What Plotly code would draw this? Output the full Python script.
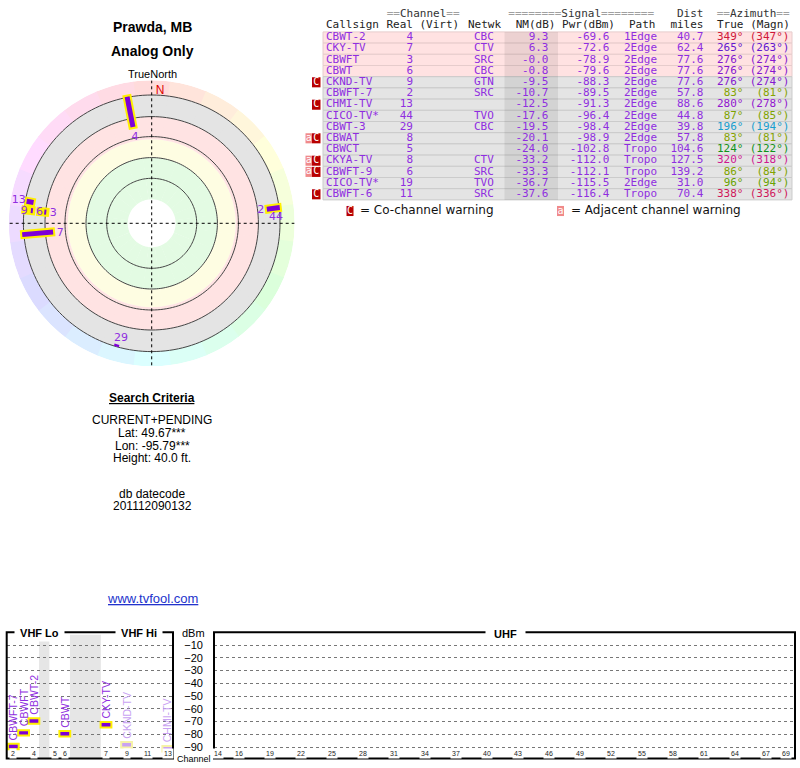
import numpy as np
import plotly.graph_objects as go

W, H = 800, 768
PURPLE = '#8f2ee0'
PURPLE_FAINT = '#c9a2f2'
YELLOW = '#fff000'
YELLOW_FAINT = '#f6f2a8'
MONO = 'DejaVu Sans Mono'
SANS = 'Liberation Sans'

# ---------------- station list (table) ----------------
callsigns = ['CBWT-2', 'CKY-TV', 'CBWFT', 'CBWT', 'CKND-TV', 'CBWFT-7', 'CHMI-TV', 'CICO-TV*',
             'CBWT-3', 'CBWAT', 'CBWCT', 'CKYA-TV', 'CBWFT-9', 'CICO-TV*', 'CBWFT-6']
real_ch = [4, 7, 3, 6, 9, 2, 13, 44, 29, 8, 5, 8, 6, 19, 11]
networks = ['CBC', 'CTV', 'SRC', 'CBC', 'GTN', 'SRC', '', 'TVO', 'CBC', '', '', 'CTV', 'SRC', 'TVO', 'SRC']
nm_db = [9.3, 6.3, -0.0, -0.8, -9.5, -10.7, -12.5, -17.6, -19.5, -20.1, -24.0, -33.2, -33.3, -36.7, -37.6]
pwr_dbm = [-69.6, -72.6, -78.9, -79.6, -88.3, -89.5, -91.3, -96.4, -98.4, -98.9, -102.8, -112.0, -112.1, -115.5, -116.4]
paths = ['1Edge', '2Edge', '2Edge', '2Edge', '2Edge', '2Edge', '2Edge', '2Edge', '2Edge', '2Edge',
         'Tropo', 'Tropo', 'Tropo', '2Edge', 'Tropo']
dist_mi = [40.7, 62.4, 77.6, 77.6, 77.6, 57.8, 88.6, 44.8, 39.8, 57.8, 104.6, 127.5, 139.2, 31.0, 70.4]
az_true = [349, 265, 276, 276, 276, 83, 280, 87, 196, 83, 124, 320, 86, 96, 338]
az_magn = [347, 263, 274, 274, 274, 81, 278, 85, 194, 81, 122, 318, 84, 94, 336]
warnings = ['', '', '', '', 'C', '', 'C', '', '', 'aC', '', 'aC', 'aC', '', 'C']

# ---------------- radar plot ----------------
ring_radii = [45, 65.7, 86.7, 106.7, 128.3]
radar_mark_az = [349, 265, 83, 280, 276, 276, 196]
radar_mark_r_in = [98, 99, 116, 120, 119.5, 106, 125.8]
radar_mark_r_out = [129, 130, 129, 127, 121.5, 108, 128.2]
radar_halo_r_in = [96, 97, 114, 118, 117, 103]
radar_halo_r_out = [131, 132, 131, 129, 131, 116]
radar_label_text = ['4', '7', '2', '44', '13', '9', '6', '3', '29']
radar_label_az = [349, 264, 83, 87, 280, 275.5, 275.4, 275.6, 195]
radar_label_r = [88, 92, 110, 124.5, 135, 128, 112.8, 98.8, 118.5]

# ---------------- spectrum chart ----------------
vhf_channels = [2, 3, 4, 5, 6, 7, 8, 9, 10, 11, 12, 13]
vhf_slots = [0, 1, 2, 4, 5, 9, 10, 11, 12, 13, 14, 15]
vhf_tick_channels = [2, 4, 5, 6, 7, 9, 11, 13]
uhf_tick_channels = [14, 16, 19, 22, 25, 28, 31, 34, 37, 40, 43, 46, 49, 52, 55, 58, 61, 64, 67, 69]
dbm_ticks = [-10, -20, -30, -40, -50, -60, -70, -80, -90]


def pxx(x):
    return x / W


def pxy(y):
    return 1 - y / H


ROW0, ROW_H = 37.5, 11.2


def row_of(y):
    return (y - ROW0) / ROW_H


def az_color(a):
    # darker, slightly warmer tones for the yellow/green part of the compass
    if a < 110:
        return f'hsl({a * 0.85:.0f},100%,32%)'
    if a < 160:
        return f'hsl({a:.0f},80%,32%)'
    return f'hsl({a:.0f},80%,45%)'


fig = go.Figure()

# ---- radar background bands ----
sector_theta = np.arange(0, 360, 15)
ns = len(sector_theta)
bands = [(24, 66, '#e3fbe3'), (66, 84, '#fefde2'), (84, 106.7, '#ffe3e3'), (106.7, 128.3, '#e4e4e4')]
for r0, r1, col in bands:
    fig.add_trace(go.Barpolar(theta=sector_theta, r=[r1 - r0] * ns, base=r0, width=15.4,
                              marker=dict(color=col, line=dict(width=0)), hoverinfo='skip'))
fig.add_trace(go.Barpolar(theta=sector_theta, r=[143 - 128.3] * ns, base=128.3, width=15.4,
                          marker=dict(color=[f'hsl({t},100%,93%)' for t in sector_theta], line=dict(width=0)),
                          hoverinfo='skip'))

circle_theta = np.arange(0, 362, 2)
for rr in ring_radii:
    fig.add_trace(go.Scatterpolar(r=[rr] * len(circle_theta), theta=circle_theta, mode='lines',
                                  line=dict(color='#444', width=1), hoverinfo='skip'))
fig.add_trace(go.Scatterpolar(r=[143, 0, 143, None, 143, 0, 143], theta=[0, 0, 180, None, 90, 90, 270],
                              mode='lines', line=dict(color='black', width=1, dash='dot'), hoverinfo='skip'))

halo_r, halo_t = [], []
for a, r0, r1 in zip(radar_mark_az, radar_halo_r_in, radar_halo_r_out):
    halo_r += [r0, r1, None]
    halo_t += [a, a, None]
fig.add_trace(go.Scatterpolar(r=halo_r, theta=halo_t, mode='lines',
                              line=dict(color=YELLOW, width=9), hoverinfo='skip'))
mark_r, mark_t = [], []
for a, r0, r1 in zip(radar_mark_az, radar_mark_r_in, radar_mark_r_out):
    mark_r += [r0, r1, None]
    mark_t += [a, a, None]
fig.add_trace(go.Scatterpolar(r=mark_r, theta=mark_t, mode='lines',
                              line=dict(color='#7d00d8', width=5), hoverinfo='skip'))
fig.add_trace(go.Scatterpolar(r=radar_label_r, theta=radar_label_az, text=radar_label_text, mode='text',
                              textfont=dict(family='DejaVu Sans', size=11, color=PURPLE), hoverinfo='skip'))
fig.add_trace(go.Scatterpolar(r=[133], theta=[3.6], text=['N'], mode='text',
                              textfont=dict(family=SANS, size=12, color='#dd0000'), hoverinfo='skip'))

# ---- spectrum chart ----
slot_of = dict(zip(vhf_channels, vhf_slots))
shown = [i for i in range(len(callsigns)) if nm_db[i] > -15]
vhf_idx = [i for i in shown if real_ch[i] <= 13]
uhf_idx = [i for i in shown if real_ch[i] >= 14]
MARK_H = 4.3
ann = []


def spectrum_bar(idx, xaxis, xpos):
    faint = ['C' in warnings[i] for i in idx]
    for i, x, f in zip(idx, xpos, faint):
        ann.append(dict(x=x, y=pwr_dbm[i] + MARK_H / 2 + 1.2, xref=xaxis, yref='y', text=callsigns[i],
                        textangle=-90, xanchor='center', yanchor='bottom', showarrow=False,
                        font=dict(family='Liberation Sans Narrow, Liberation Sans', size=10.5,
                                  color=PURPLE_FAINT if f else PURPLE)))
    return go.Bar(
        x=xpos, y=[MARK_H] * len(idx), base=[pwr_dbm[i] - MARK_H / 2 for i in idx], width=1.05,
        marker=dict(color=[PURPLE_FAINT if f else '#7d00d8' for f in faint],
                    line=dict(color=[YELLOW_FAINT if f else YELLOW for f in faint], width=2)),
        xaxis=xaxis, yaxis='y', hoverinfo='skip')


fig.add_trace(spectrum_bar(vhf_idx, 'x', [slot_of[real_ch[i]] for i in vhf_idx]))
fig.add_trace(spectrum_bar(uhf_idx, 'x2', [real_ch[i] for i in uhf_idx]))

# ---- table ----
rows = list(range(len(callsigns)))
n = len(rows)
pink = [v > -2 for v in nm_db]
fig.add_trace(go.Bar(orientation='h', y=rows, x=[469] * n, base=323, width=1,
                     marker=dict(color=['#ffe2e2' if p else '#e4e4e4' for p in pink],
                                 line=dict(color=['#e6cccc' if p else '#cbcbcb' for p in pink], width=1)),
                     xaxis='x3', yaxis='y3', hoverinfo='skip'))
fig.add_trace(go.Bar(orientation='h', y=rows, x=[53.5] * n, base=504.5, width=1,
                     marker=dict(color='rgba(0,0,0,0.075)', line=dict(width=0)),
                     xaxis='x3', yaxis='y3', hoverinfo='skip'))

c_rows = [i for i in rows if 'C' in warnings[i]]
a_rows = [i for i in rows if 'a' in warnings[i]]
LEG = row_of(211)
fig.add_trace(go.Bar(orientation='h', y=c_rows + [LEG], x=[8.5] * len(c_rows) + [7],
                     base=[312] * len(c_rows) + [346.5], width=0.9,
                     marker=dict(color='#b80000', line=dict(width=0)),
                     xaxis='x3', yaxis='y3', hoverinfo='skip'))
fig.add_trace(go.Bar(orientation='h', y=a_rows + [LEG], x=[6.5] * len(a_rows) + [7],
                     base=[305.5] * len(a_rows) + [557], width=0.9,
                     marker=dict(color='#f08a8a', line=dict(width=0)),
                     xaxis='x3', yaxis='y3', hoverinfo='skip'))


def col_text(x, ys, texts, colors, align, size=11, family=MONO):
    if not isinstance(x, list):
        x = [x] * len(ys)
    pos = {'left': 'middle right', 'right': 'middle left', 'center': 'middle center'}[align]
    return go.Scatter(x=x, y=ys, text=texts, mode='text', textposition=pos,
                      textfont=dict(family=family, size=size, color=colors),
                      xaxis='x3', yaxis='y3', hoverinfo='skip', cliponaxis=False)


fig.add_trace(col_text(316.25, c_rows, ['C'] * len(c_rows), 'white', 'center', 10))
fig.add_trace(col_text(308.75, a_rows, ['a'] * len(a_rows), 'white', 'center', 10))
fig.add_trace(col_text([350, 560.5], [LEG, LEG], ['C', 'a'], 'white', 'center', 10))
fig.add_trace(col_text([360, 571], [LEG, LEG], ['= Co-channel warning', '= Adjacent channel warning'],
                       '#111', 'left', 12, 'DejaVu Sans'))

fig.add_trace(col_text(326, rows, callsigns, PURPLE, 'left'))
fig.add_trace(col_text(413, rows, [str(c) for c in real_ch], PURPLE, 'right'))
fig.add_trace(col_text(474, rows, networks, PURPLE, 'left'))
fig.add_trace(col_text(548.5, rows, [f'{v:.1f}' for v in nm_db], PURPLE, 'right'))
fig.add_trace(col_text(609.5, rows, [f'{v:.1f}' for v in pwr_dbm], PURPLE, 'right'))
fig.add_trace(col_text(624, rows, paths, PURPLE, 'left'))
fig.add_trace(col_text(703.5, rows, [f'{v:.1f}' for v in dist_mi], PURPLE, 'right'))
fig.add_trace(col_text(743.5, rows, [f'{a}°' for a in az_true], [az_color(a) for a in az_true], 'right'))
fig.add_trace(col_text(789.5, rows, [f'({a}°)' for a in az_magn], [az_color(a) for a in az_true], 'right'))

GRAY = '#a0a0a0'


def deco(word, left, right):
    return (f"<span style='color:{GRAY}'>{'=' * left}</span>{word}"
            f"<span style='color:{GRAY}'>{'=' * right}</span>")


h1 = row_of(14)
h2 = row_of(25)
fig.add_trace(col_text([386.7, 508.3, 716.7], [h1] * 3,
                       [deco('Channel', 2, 2), deco('Signal', 8, 8), deco('Azimuth', 2, 2)], '#333', 'left'))
fig.add_trace(col_text([703.5], [h1], ['Dist'], '#333', 'right'))
fig.add_trace(col_text([326, 419.5, 468], [h2] * 3, ['Callsign', '(Virt)', 'Netwk'], '#222', 'left'))
fig.add_trace(col_text([413, 555.5, 615, 655.5, 703.5, 743.5, 790], [h2] * 7,
                       ['Real', 'NM(dB)', 'Pwr(dBm)', 'Path', 'miles', 'True', '(Magn)'], '#222', 'right'))

# ---- annotations ----


def text_at(x, y, txt, size=12, bold=False, color='black', family=SANS, **kw):
    ann.append(dict(x=pxx(x), y=pxy(y), xref='paper', yref='paper', text=f'<b>{txt}</b>' if bold else txt,
                    showarrow=False, xanchor=kw.pop('xanchor', 'center'), yanchor='middle',
                    font=dict(family=family, size=size, color=color), **kw))


text_at(152, 27, 'Prawda, MB', 14, True)
text_at(152, 51, 'Analog Only', 14, True)
text_at(152, 74, 'TrueNorth', 11)
text_at(152, 398, '<u>Search Criteria</u>', 12, True)
text_at(152, 420, 'CURRENT+PENDING', 12)
text_at(152, 433, 'Lat: 49.67***', 12)
text_at(152, 446, 'Lon: -95.79***', 12)
text_at(152, 458, 'Height: 40.0 ft.', 12)
text_at(152, 494, 'db datecode', 12)
text_at(152, 506, '201112090132', 12)
text_at(152, 598, '<u>www.tvfool.com</u>', 13, color='#2233cc')

text_at(39, 633, '\u00a0VHF Lo\u00a0', 11, True, bgcolor='white', borderpad=2)
text_at(139, 633, '\u00a0VHF Hi\u00a0', 11, True, bgcolor='white', borderpad=2)
text_at(505, 634, '\u00a0\u00a0UHF\u00a0\u00a0', 11, True, bgcolor='white', borderpad=2)
text_at(193, 633, 'dBm', 11)
text_at(194, 758.5, 'Channel', 9, bgcolor='white', borderpad=0)

for ch in vhf_tick_channels:
    ann.append(dict(x=slot_of[ch], y=pxy(758.5), xref='x', yref='paper', text=str(ch), showarrow=False,
                    font=dict(family=SANS, size=7, color='#222'), bgcolor='white', borderpad=1))
for ch in uhf_tick_channels:
    ann.append(dict(x=ch, y=pxy(758.5), xref='x2', yref='paper', text=str(ch), showarrow=False,
                    font=dict(family=SANS, size=7, color='#222'), bgcolor='white', borderpad=1))

shapes = [
    dict(type='rect', xref='x', yref='y domain', x0=2.5, x1=3.5, y0=0, y1=0.98,
         fillcolor='#e6e6e6', line=dict(width=0), layer='below'),
    dict(type='rect', xref='x', yref='y domain', x0=5.5, x1=8.5, y0=0, y1=0.98,
         fillcolor='#e6e6e6', line=dict(width=0), layer='below'),
    dict(type='rect', xref='x domain', yref='y domain', x0=0, x1=1, y0=0, y1=1,
         line=dict(color='black', width=2)),
    dict(type='rect', xref='x2 domain', yref='y domain', x0=0, x1=1, y0=0, y1=1,
         line=dict(color='black', width=2)),
]

hidden = dict(visible=False, fixedrange=True)
fig.update_layout(
    width=W, height=H, margin=dict(l=0, r=0, t=0, b=0),
    paper_bgcolor='white', plot_bgcolor='rgba(0,0,0,0)',
    showlegend=False, barmode='overlay',
    polar=dict(
        domain=dict(x=[pxx(8.7), pxx(294.7)], y=[pxy(366.3), pxy(80.3)]),
        bgcolor='white', hole=0,
        radialaxis=dict(range=[0, 143], visible=False),
        angularaxis=dict(direction='clockwise', rotation=90, visible=False),
    ),
    xaxis=dict(domain=[pxx(6.7), pxx(173)], range=[-0.641, 15.505], anchor='y', **hidden),
    xaxis2=dict(domain=[pxx(214), pxx(795)], range=[13.584, 69.826], anchor='y', **hidden),
    yaxis=dict(domain=[pxy(758.5), pxy(632.25)], range=[-99, 0], anchor='free', position=pxx(203),
               tickvals=dbm_ticks, ticks='', showline=False, zeroline=False,
               showgrid=True, gridcolor='#777', gridwidth=1, griddash='dot',
               tickfont=dict(family=SANS, size=11, color='black'), fixedrange=True),
    xaxis3=dict(domain=[pxx(300), 1], range=[300, 800], anchor='y3', **hidden),
    yaxis3=dict(domain=[pxy(220), 1], range=[row_of(220), row_of(0)], anchor='x3', **hidden),
    annotations=ann,
    shapes=shapes,
)

fig.write_html("out.html", config={'displayModeBar': False},
               post_script="document.body.style.margin='0px';")
